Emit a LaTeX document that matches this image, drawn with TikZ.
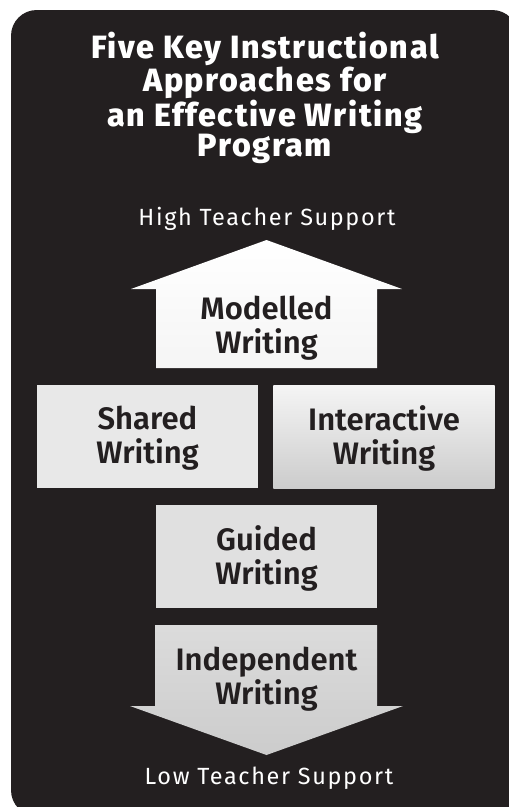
\documentclass[tikz,border=0pt]{standalone}
\usepackage{fontspec}
\setmainfont{Fira Sans}
\newfontfamily\semibold{Fira Sans SemiBold}
\newfontfamily\heavy{Fira Sans ExtraBold}
\usetikzlibrary{shapes}
\definecolor{panel}{HTML}{231F20}
\definecolor{ink}{HTML}{231F20}
\tikzstyle{box}=[rectangle,minimum width=6.63cm,minimum height=3.09cm,inner sep=0pt,
  align=center,text=ink,font=\semibold\fontsize{26.5}{29}\selectfont]
\tikzstyle{support}=[text=white,font=\fontsize{20}{21}\selectfont\addfontfeatures{LetterSpace=7}]

\begin{document}
\begin{tikzpicture}[x=0.03cm,y=-0.03cm]
    % Fix the page and draw the dark panel
    \useasboundingbox (0,0) rectangle (509,807);
    \clip (0,0) rectangle (509,807);
    \fill[panel,rounded corners=22] (11,10) rectangle (518,816);

    % Title and the two end labels
    \node[text=white,align=center,font=\heavy\fontsize{27.5}{25.8}\selectfont\addfontfeatures{LetterSpace=5}] (title) at (265,98)
        {Five Key Instructional\\Approaches for\\an Effective Writing\\Program};
    \node[support] (high) at (267,219) {High Teacher Support};
    \node[support] (low) at (269,778) {Low Teacher Support};

    % The two big arrows
    \path[top color=white,bottom color=black!4] (266.5,240) -- (402,289) -- (377,289) -- (377,368)
        -- (156,368) -- (156,289) -- (131,289) -- cycle;
    \path[top color=black!14,bottom color=black!20] (155,625) -- (377,625) -- (377,706) -- (403,706)
        -- (266.5,755) -- (130,706) -- (155,706) -- cycle;
    \node[box,minimum width=0pt,minimum height=0pt] (modelled) at (266.5,328) {Modelled\\Writing};
    \node[box,minimum width=0pt,minimum height=0pt] (independent) at (266.5,679) {Independent\\Writing};

    % The three boxes
    \node[box,fill=black!9,text depth=2.5pt] (shared) at (147.5,436.5) {Shared\\Writing};
    \node[box,top color=black!4,bottom color=black!20,text depth=2.5pt] (interactive) at (384,436.5) {Interactive\\Writing};
    \node[box,fill=black!12,text depth=2.5pt] (guided) at (266.5,556.5) {Guided\\Writing};
\end{tikzpicture}
\end{document}
